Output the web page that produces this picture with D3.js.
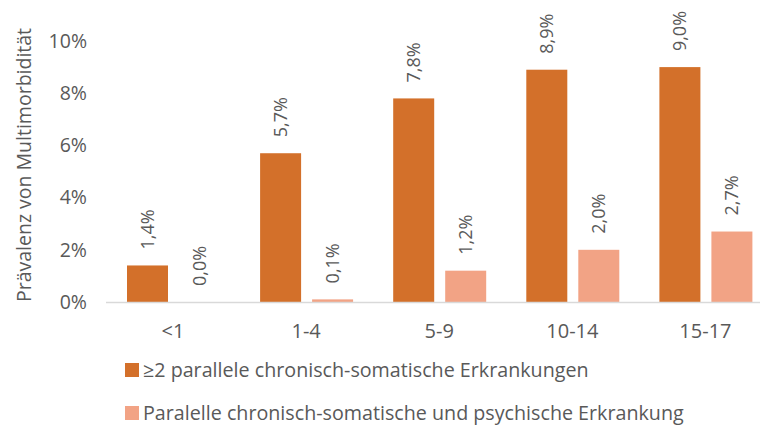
<!DOCTYPE html>
<html>
<head>
  <meta charset="utf-8">
  <script src="https://d3js.org/d3.v7.min.js"></script>
  <style>
    body { margin: 0; background: #fff; }
    text { font-family: "Open Sans", sans-serif; fill: #595959; }
    .tick text { font-size: 19.5px; }
    .value { font-size: 18px; }
  </style>
</head>
<body>
  <script>
    // Altersgruppen und Werte (in %)
    var categories = ["<1", "1-4", "5-9", "10-14", "15-17"];
    var series = ["≥2 parallele chronisch-somatische Erkrankungen",
                  "Paralelle chronisch-somatische und psychische Erkrankung"];
    var somatic = [1.4, 5.7, 7.8, 8.9, 9.0];
    var somaticPsych = [0.0, 0.1, 1.2, 2.0, 2.7];
    var yTicks = [0, 2, 4, 6, 8, 10];
    var colors = ["#d3702a", "#f2a385"];

    var width = 760, height = 427;
    var svg = d3.select("body").append("svg")
      .attr("width", width)
      .attr("height", height);

    var x0 = d3.scaleBand().domain(categories).range([106.5, 772]);
    var x1 = d3.scaleBand().domain([0, 1]).range([20.5, 113.5]).paddingInner(11 / 52);
    var y = d3.scaleLinear().domain([0, 10]).range([302, 41]);

    var values = [somatic, somaticPsych];

    // y-Achse
    var yAxis = svg.append("g")
      .attr("transform", "translate(87,0)")
      .call(d3.axisLeft(y).tickValues(yTicks).tickSize(0).tickPadding(0)
        .tickFormat(function (d) { return d + "%"; }));
    yAxis.select(".domain").remove();

    // Balken
    values.forEach(function (vals, s) {
      svg.append("g").selectAll("rect")
        .data(vals)
        .join("rect")
        .attr("x", function (d, i) { return x0(categories[i]) + x1(s); })
        .attr("y", function (d) { return y(d); })
        .attr("width", x1.bandwidth())
        .attr("height", function (d) { return y(0) - y(d); })
        .attr("fill", colors[s]);

      svg.append("g").selectAll("text")
        .data(vals)
        .join("text")
        .attr("class", "value")
        .attr("transform", function (d, i) {
          var cx = x0(categories[i]) + x1(s) + x1.bandwidth() / 2;
          return "translate(" + (cx + 6) + "," + (y(d) - 16) + ") rotate(-90)";
        })
        .text(function (d) { return d.toFixed(1).replace(".", ",") + "%"; });
    });

    // x-Achse
    var xAxis = svg.append("g")
      .attr("transform", "translate(0,302)")
      .call(d3.axisBottom(x0).tickSize(0).tickPadding(0));
    xAxis.select(".domain").remove();
    xAxis.selectAll("text").attr("dy", 0).attr("y", 36).style("font-size", "20px");
    svg.append("line")
      .attr("x1", 106).attr("x2", 760)
      .attr("y1", 302.5).attr("y2", 302.5)
      .attr("stroke", "#d9d9d9").attr("stroke-width", 1.5);

    // Achsentitel
    svg.append("text")
      .attr("transform", "translate(31,165) rotate(-90)")
      .attr("text-anchor", "middle")
      .style("font-size", "19.5px")
      .text("Prävalenz von Multimorbidität");

    // Legende
    var legend = svg.append("g").selectAll("g")
      .data(series)
      .join("g")
      .attr("transform", function (d, i) { return "translate(125," + (363 + i * 43) + ")"; });
    legend.append("rect")
      .attr("width", 14).attr("height", 14)
      .attr("fill", function (d, i) { return colors[i]; });
    legend.append("text")
      .attr("x", 18).attr("y", 13.5)
      .style("font-size", "19.7px")
      .text(function (d) { return d; });
  </script>
</body>
</html>
